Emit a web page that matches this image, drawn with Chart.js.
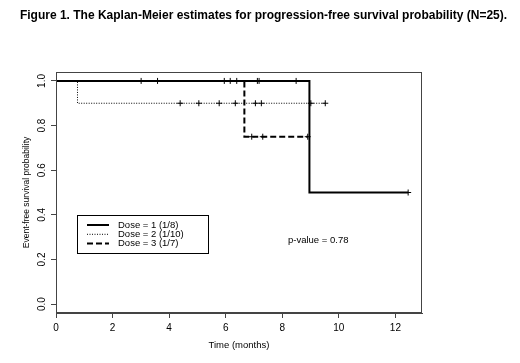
<!DOCTYPE html>
<html>
<head>
<meta charset="utf-8">
<script src="https://cdn.jsdelivr.net/npm/chart.js@4"></script>
<style>
  body { margin: 0; background: #fff; }
</style>
</head>
<body>
<canvas id="kmChart" width="520" height="363"></canvas>
<script>
// KM step curves: time at which survival changes, and the survival after it
var dose1Times = [0, 8.96, 12.45];
var dose1Surv = [1, 0.5, 0.5];
var dose2Times = [0, 0.76, 9.52];
var dose2Surv = [1, 0.9, 0.9];
var dose3Times = [0, 6.66, 8.9];
var dose3Surv = [1, 0.75, 0.75];

// censored observations
var dose1CensorTimes = [3.01, 6.16, 7.12, 7.18, 8.49, 12.45];
var dose1CensorSurv = [1, 1, 1, 1, 1, 0.5];
var dose2CensorTimes = [4.39, 5.05, 5.77, 6.34, 7.05, 7.26, 9.01, 9.52];
var dose2CensorSurv = [0.9, 0.9, 0.9, 0.9, 0.9, 0.9, 0.9, 0.9];
var dose3CensorTimes = [3.59, 5.95, 6.39, 6.92, 7.31, 8.9];
var dose3CensorSurv = [1, 1, 1, 0.75, 0.75, 0.75];

var legendLabels = ["Dose = 1 (1/8)", "Dose = 2 (1/10)", "Dose = 3 (1/7)"];
var xTicks = [0, 2, 4, 6, 8, 10, 12];
var yTicks = [0, 0.2, 0.4, 0.6, 0.8, 1.0];

function pts(xs, ys) {
  return xs.map(function (x, i) { return { x: x, y: ys[i] }; });
}

var FONT = "'Liberation Sans', Arial, sans-serif";
var lineStyles = [
  { width: 2, dash: [] },
  { width: 1, dash: [1, 1.5] },
  { width: 2, dash: [6, 3] }
];

function stepSet(xs, ys, st) {
  return {
    data: pts(xs, ys),
    showLine: true,
    stepped: true,
    borderColor: "#000",
    borderWidth: st.width,
    borderDash: st.dash,
    pointRadius: 0,
    fill: false
  };
}
function censorSet(xs, ys) {
  return {
    data: pts(xs, ys),
    showLine: false,
    pointStyle: "cross",
    pointRadius: 3,
    borderColor: "#000",
    borderWidth: 1
  };
}

var extras = {
  id: "extras",
  afterDraw: function (chart) {
    var c = chart.ctx, a = chart.chartArea;
    var ys = chart.scales.y;
    c.save();
    // frame
    c.strokeStyle = "#444";
    c.lineWidth = 1;
    c.strokeRect(a.left + 0.5, a.top + 0.5, a.right - a.left - 1, a.bottom - a.top - 1);

    c.fillStyle = "#000";
    // y tick labels, rotated
    c.font = "10px " + FONT;
    c.textAlign = "center";
    c.textBaseline = "middle";
    yTicks.forEach(function (v) {
      c.save();
      c.translate(42, ys.getPixelForValue(v));
      c.rotate(-Math.PI / 2);
      c.fillText(v.toFixed(1), 0, 0);
      c.restore();
    });
    // y axis title
    c.font = "8.5px " + FONT;
    c.save();
    c.translate(27, (a.top + a.bottom) / 2);
    c.rotate(-Math.PI / 2);
    c.fillText("Event-free survival probability", 0, 0);
    c.restore();
    // x axis title
    c.font = "9.5px " + FONT;
    c.fillText("Time (months)", (a.left + a.right) / 2, 345);
    // p-value
    c.textAlign = "left";
    c.fillText("p-value = 0.78", 288, 240);

    // figure title
    c.font = "bold 12px " + FONT;
    c.textAlign = "center";
    c.fillText("Figure 1. The Kaplan-Meier estimates for progression-free survival probability (N=25).", 263.5, 16);

    // legend
    c.strokeStyle = "#000";
    c.strokeRect(77.5, 215.5, 131, 38);
    c.font = "9.5px " + FONT;
    c.textAlign = "left";
    legendLabels.forEach(function (lab, i) {
      var y = 225 + i * 9.3;
      c.beginPath();
      c.lineWidth = lineStyles[i].width;
      c.setLineDash(lineStyles[i].dash);
      c.moveTo(87, y);
      c.lineTo(109, y);
      c.stroke();
      c.setLineDash([]);
      c.fillText(lab, 118, y);
    });
    c.restore();
  }
};

new Chart(document.getElementById("kmChart"), {
  type: "scatter",
  data: {
    datasets: [
      stepSet(dose3Times, dose3Surv, lineStyles[2]),
      stepSet(dose2Times, dose2Surv, lineStyles[1]),
      stepSet(dose1Times, dose1Surv, lineStyles[0]),
      censorSet(dose1CensorTimes, dose1CensorSurv),
      censorSet(dose2CensorTimes, dose2CensorSurv),
      censorSet(dose3CensorTimes, dose3CensorSurv)
    ]
  },
  options: {
    responsive: false,
    animation: false,
    layout: { padding: { top: 72, right: 98, left: 0, bottom: 0 } },
    plugins: { legend: { display: false }, tooltip: { enabled: false } },
    scales: {
      x: {
        type: "linear",
        min: 0,
        max: 12.94,
        afterBuildTicks: function (s) { s.ticks = xTicks.map(function (v) { return { value: v }; }); },
        afterFit: function (s) { s.height = 50; },
        grid: { display: true, drawOnChartArea: false, drawTicks: true, tickLength: 5, color: "#444" },
        border: { display: true, color: "#444" },
        ticks: { color: "#000", font: { family: FONT, size: 10 }, padding: 4, maxRotation: 0 }
      },
      y: {
        type: "linear",
        min: -0.04,
        max: 1.04,
        afterBuildTicks: function (s) { s.ticks = yTicks.map(function (v) { return { value: v }; }); },
        afterFit: function (s) { s.width = 56; },
        grid: { display: true, drawOnChartArea: false, drawTicks: true, tickLength: 5, color: "#444" },
        border: { display: true, color: "#444" },
        ticks: { callback: function () { return ""; } }
      }
    }
  },
  plugins: [extras]
});
</script>
</body>
</html>
